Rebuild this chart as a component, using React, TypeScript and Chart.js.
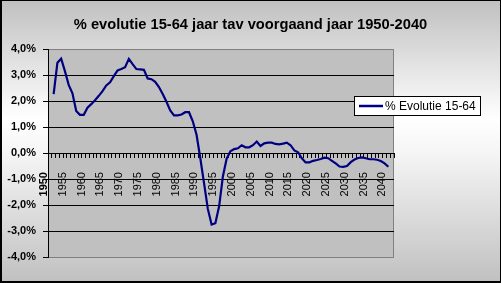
import React, { useEffect, useRef } from 'react';
import { Chart, registerables } from 'chart.js';

Chart.register(...registerables);

const FONT = '"Liberation Sans", Arial, sans-serif';

const TITLE = '% evolutie 15-64 jaar tav voorgaand jaar 1950-2040';
const SERIES_LABEL = '% Evolutie 15-64';

// Categories: 1950 .. 2041 (last slot empty, as in the source plot area)
const years: string[] = Array.from({ length: 92 }, (_, i) => String(1950 + i));

// % change versus previous year (1950 has no previous year)
const evolutie: (number | null)[] = [
  null, 2.27, 3.47, 3.63, 3.15, 2.62, 2.3, 1.62, 1.47, 1.47,
  1.74, 1.88, 2.03, 2.2, 2.38, 2.6, 2.72, 2.96, 3.18, 3.23,
  3.3, 3.62, 3.42, 3.23, 3.22, 3.2, 2.87, 2.84, 2.74, 2.54,
  2.27, 1.97, 1.64, 1.45, 1.45, 1.48, 1.57, 1.57, 1.22, 0.7,
  -0.2, -1.17, -2.15, -2.75, -2.7, -2.05, -0.9, -0.22, 0.07, 0.15,
  0.18, 0.3, 0.22, 0.22, 0.3, 0.44, 0.27, 0.37, 0.4, 0.4,
  0.35, 0.33, 0.36, 0.4, 0.3, 0.1, 0.03, -0.2, -0.36, -0.36,
  -0.3, -0.27, -0.23, -0.18, -0.2, -0.3, -0.4, -0.52, -0.53, -0.5,
  -0.35, -0.25, -0.19, -0.17, -0.2, -0.24, -0.24, -0.26, -0.31, -0.4,
  -0.53,
];

const yMin = -4;
const yMax = 4;
const yStep = 1;

const plotBackground = {
  id: 'plotBackground',
  beforeDraw(chart: any) {
    const { ctx, chartArea } = chart;
    ctx.save();
    ctx.fillStyle = '#c0c0c0';
    ctx.fillRect(chartArea.left, chartArea.top, chartArea.right - chartArea.left, chartArea.bottom - chartArea.top);
    ctx.strokeStyle = '#808080';
    ctx.lineWidth = 1;
    ctx.strokeRect(chartArea.left + 0.5, chartArea.top + 0.5, chartArea.right - chartArea.left - 1, chartArea.bottom - chartArea.top);
    ctx.restore();
  },
};

const legendBox = {
  id: 'legendBox',
  afterDraw(chart: any, _args: any, opts: any) {
    const { ctx } = chart;
    const ds = chart.data.datasets[0];
    const { x, y, w, h } = opts;
    ctx.save();
    ctx.fillStyle = '#ffffff';
    ctx.fillRect(x, y, w, h);
    ctx.strokeStyle = '#000000';
    ctx.lineWidth = 1;
    ctx.strokeRect(x + 0.5, y + 0.5, w - 1, h - 1);
    ctx.strokeStyle = ds.borderColor;
    ctx.lineWidth = 2.5;
    ctx.beginPath();
    ctx.moveTo(x + 5, y + h / 2);
    ctx.lineTo(x + 29, y + h / 2);
    ctx.stroke();
    ctx.fillStyle = '#000000';
    ctx.font = `12px ${FONT}`;
    ctx.textBaseline = 'middle';
    ctx.textAlign = 'left';
    ctx.fillText(ds.label, x + 31, y + h / 2 + 0.5);
    ctx.restore();
  },
};

export default function App() {
  const canvasRef = useRef<HTMLCanvasElement | null>(null);

  useEffect(() => {
    document.body.style.margin = '0';
    const canvas = canvasRef.current;
    if (!canvas) return;
    const chart = new Chart(canvas, {
      type: 'line',
      data: {
        labels: years,
        datasets: [
          {
            label: SERIES_LABEL,
            data: evolutie,
            borderColor: '#000080',
            backgroundColor: '#000080',
            borderWidth: 2.2,
            pointRadius: 0,
            tension: 0,
            spanGaps: false,
          },
        ],
      },
      options: {
        animation: false,
        responsive: false,
        devicePixelRatio: 1,
        events: [],
        layout: { padding: { left: 0, right: 0, top: 0, bottom: 26 } },
        plugins: {
          legend: { display: false },
          tooltip: { enabled: false },
          title: {
            display: true,
            text: TITLE,
            color: '#000000',
            font: { family: FONT, size: 14.7, weight: 'bold' },
            padding: { top: 16, bottom: 15.4 },
          },
          legendBox: { x: 354, y: 96, w: 127, h: 20 },
        } as any,
        scales: {
          x: {
            type: 'category',
            position: { y: 0 } as any,
            offset: true,
            grid: {
              offset: true,
              drawOnChartArea: false,
              drawTicks: true,
              tickLength: 4,
              color: '#000000',
              lineWidth: 1,
            },
            border: { display: true, color: '#000000', width: 1 },
            ticks: {
              autoSkip: false,
              maxRotation: 90,
              minRotation: 90,
              labelOffset: -6,
              padding: 15,
              color: '#000000',
              font: (ctx: any) => ({
                family: FONT,
                size: 11,
                weight: ctx.index === 0 ? 'bold' : 'normal',
              }),
              callback: (_v: any, i: number) => {
                const yr = Number(years[i]);
                return yr % 5 === 0 && yr <= 2040 ? years[i] : '';
              },
            },
          },
          y: {
            min: yMin,
            max: yMax,
            afterFit: (scale: any) => {
              scale.width = 48;
            },
            grid: {
              color: (ctx: any) =>
                ctx.tick && (ctx.tick.value === yMax || ctx.tick.value === yMin) ? '#808080' : '#000000',
              lineWidth: 1,
              drawTicks: true,
              tickLength: 5,
              tickColor: '#000000',
            },
            border: { display: true, color: '#000000', width: 1 },
            ticks: {
              stepSize: yStep,
              padding: 7,
              color: '#000000',
              font: { family: FONT, size: 11, weight: 'bold' },
              callback: (v: any) => Number(v).toFixed(1).replace('.', ',') + '%',
            },
          },
          legendSpace: {
            type: 'linear',
            position: 'right',
            display: true,
            grid: { display: false, drawTicks: false },
            border: { display: false },
            ticks: { display: false },
            afterFit: (scale: any) => {
              scale.width = 107;
            },
          },
        } as any,
      },
      plugins: [plotBackground, legendBox],
    });
    return () => chart.destroy();
  }, []);

  return (
    <div
      style={{
        position: 'fixed',
        left: 0,
        top: 0,
        width: 501,
        height: 283,
        background: 'linear-gradient(to bottom, #c0c0c0 0%, #ffffff 42%, #f4f4f4 55%, #c0c0c0 100%)',
      }}
    >
      <canvas ref={canvasRef} width={501} height={283} style={{ position: 'absolute', left: 0, top: 0, width: 501, height: 283 }} />
      <div
        style={{
          position: 'absolute',
          left: 0,
          top: 0,
          width: 501,
          height: 283,
          boxSizing: 'border-box',
          border: '1px solid #000000',
          borderLeftWidth: 2,
          borderBottomWidth: 2,
          pointerEvents: 'none',
        }}
      />
    </div>
  );
}
